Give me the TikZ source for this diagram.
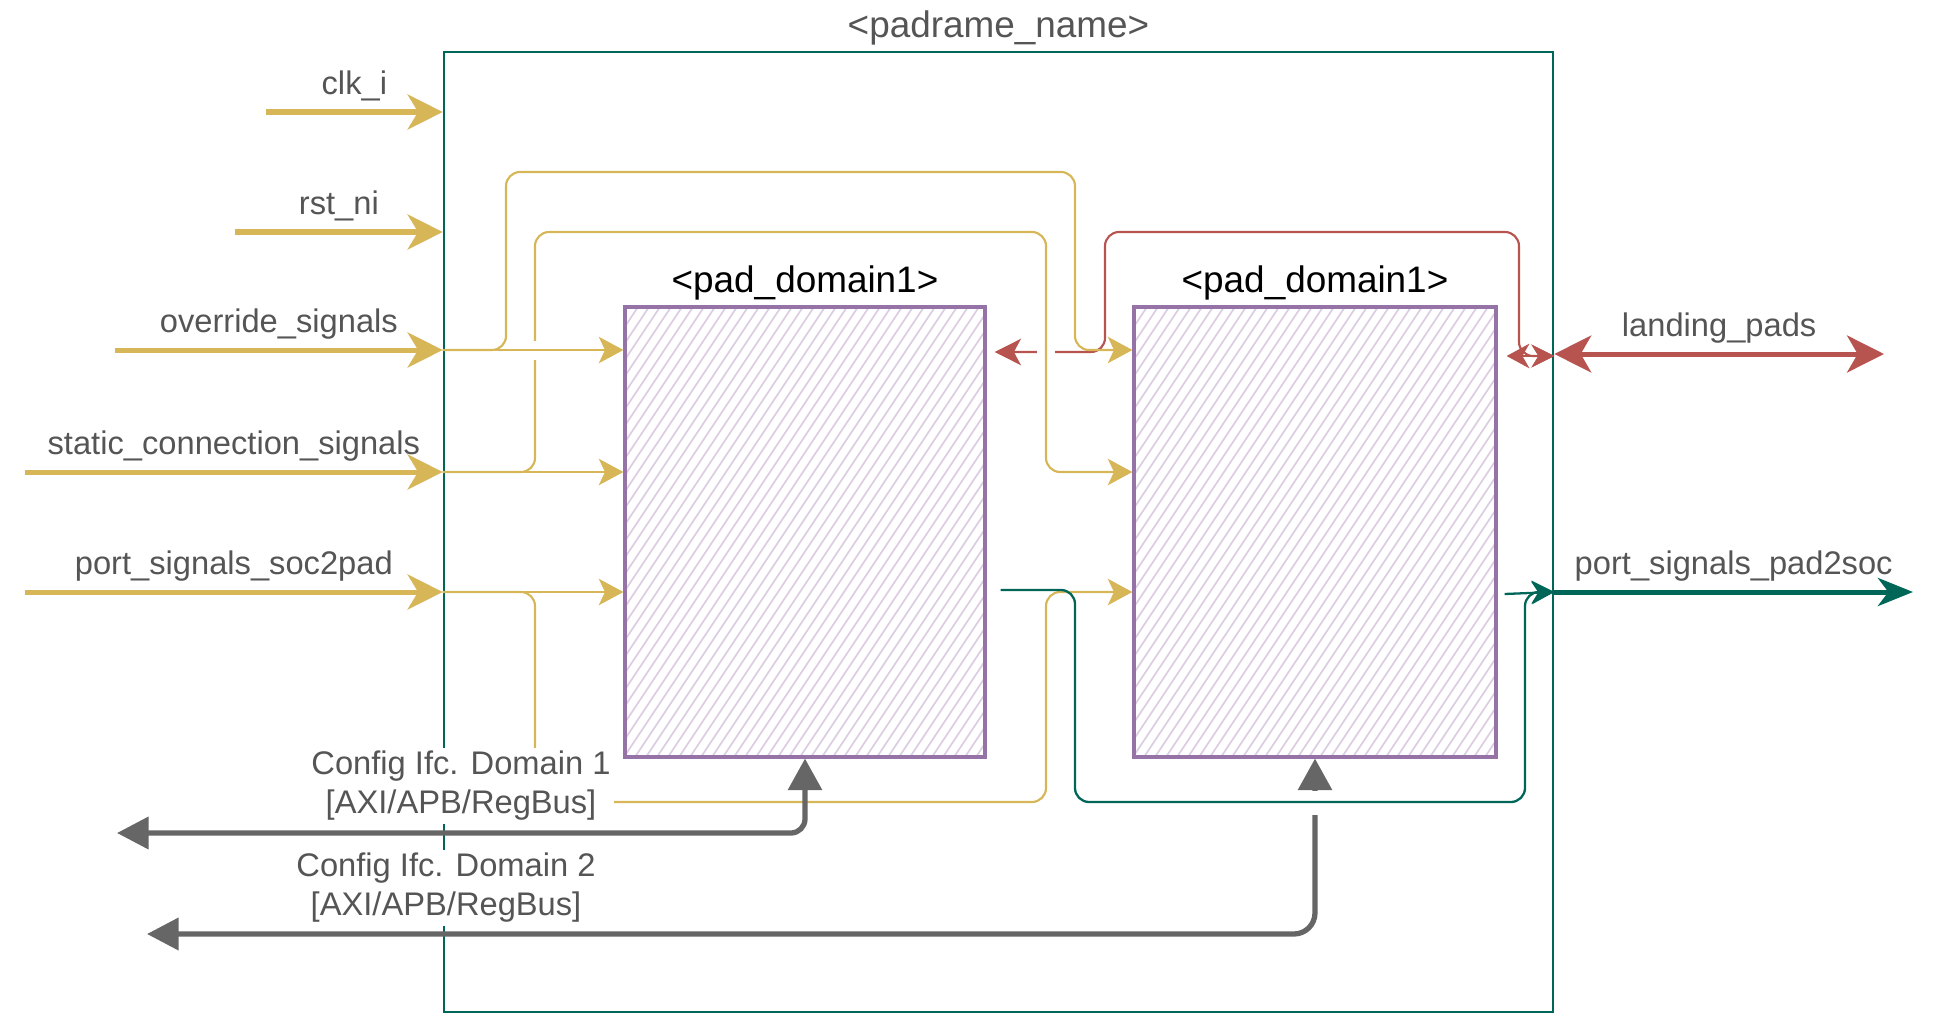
\documentclass[tikz,border=0pt]{standalone}
\usepackage{fontspec}
\setmainfont{Liberation Sans}
\usetikzlibrary{arrows.meta,positioning,fit}
\definecolor{frameteal}{HTML}{006658}
\definecolor{sigyellow}{HTML}{D6B656}
\definecolor{padred}{HTML}{B85450}
\definecolor{padpurple}{HTML}{9673A6}
\definecolor{hatchpurple}{HTML}{DCCDE3}
\definecolor{cfggray}{HTML}{666666}
\definecolor{labelgray}{HTML}{555555}
\newcommand{\sigfont}{\fontsize{18.6}{22.2}\selectfont}
\newcommand{\padfont}{\fontsize{21}{25}\selectfont}

\begin{document}
\begin{tikzpicture}[x=0.02cm,y=-0.02cm,
  every node/.style={inner sep=0pt},
  frame/.style={draw=frameteal,line width=1.5pt},
  padbox/.style={draw=padpurple,line width=1.8pt,
    path picture={\foreach \h in {-320,-309,...,370}
      \draw[hatchpurple,line width=1pt] (path picture bounding box.south west) ++(\h,0) -- ++(300,-450);}},
  toplabel/.style={font=\padfont,text=labelgray,anchor=base},
  padlabel/.style={font=\padfont,anchor=base},
  siglabel/.style={font=\sigfont,text=labelgray,anchor=base,yshift=9.7pt},
  cfglabel/.style={font=\sigfont,text=labelgray,align=center,fill=white,inner sep=2pt},
  bigsig/.style={sigyellow,line width=2.85pt,-{Stealth[length=20pt,width=20pt,inset=6pt]}},
  sig/.style={sigyellow,line width=1.2pt,rounded corners=8pt,-{Stealth[length=14pt,width=15pt,inset=3.5pt]}},
  redline/.style={padred,line width=1.2pt,rounded corners=8pt},
  bigred/.style={padred,line width=2.85pt,{Stealth[length=21pt,width=21pt,inset=6pt]}-{Stealth[length=21pt,width=21pt,inset=6pt]}},
  tealline/.style={frameteal,line width=1.3pt,rounded corners=8pt,-{Stealth[length=13pt,width=13pt,inset=4pt]}},
  bigteal/.style={frameteal,line width=2.85pt,-{Stealth[length=20pt,width=16pt,inset=6pt]}},
  cfgbus/.style={cfggray,line width=3pt,{Triangle[length=18pt,width=18pt]}-{Triangle[length=18pt,width=19pt]}},
  hop/.style={white,line width=3.5pt}
]
\useasboundingbox (0,0) rectangle (1941,1014);

% padframe and the two pad domains
\node[frame,fit={(444,52) (1553,1012)}] (frame) {};
\node[padbox,fit={(625,307) (985,757)}] (pd1) {};
\node[padbox,fit={(1134,307) (1496,757)}] (pd2) {};
\node[toplabel] at ([yshift=7.4pt]frame.north) {<padrame\_name>};
\node[padlabel] at ([yshift=7.6pt]pd1.north) {<pad\_domain1>};
\node[padlabel] at ([yshift=7.6pt]pd2.north) {<pad\_domain1>};

% outside ends
\coordinate (clkin) at (266,112);
\coordinate (rstin) at (235,232);
\coordinate (ovrin) at (115,350);
\coordinate (statin) at (25,472);
\coordinate (socin) at (25,592);
\coordinate (landout) at (1884,354);
\coordinate (socout) at (1913,592);
\coordinate (cfgone) at (117,833);
\coordinate (cfgtwo) at (147,934);

% inputs
\draw[bigsig] (clkin) -- node[siglabel] {clk\_i} (clkin -| frame.west);
\draw[bigsig] (rstin) -- node[siglabel] {rst\_ni} (rstin -| frame.west);
\draw[bigsig] (ovrin) -- node[siglabel] {override\_signals} (ovrin -| frame.west);
\draw[bigsig] (statin) -- node[siglabel] {static\_connection\_signals} (statin -| frame.west);
\draw[bigsig] (socin) -- node[siglabel] {port\_signals\_soc2pad} (socin -| frame.west);

% landing pads
\draw[redline,{Stealth[length=15pt,width=15pt,inset=4pt]}-{Stealth[length=13pt,width=13pt,inset=4pt]}]
  ([xshift=0.16cm]pd1.east |- 0,352) -| (1105,232) -| (1519,356) -- (frame.east |- 0,356);
\draw[hop] (1037,352) -- (1055,352);
\draw[redline,{Stealth[length=13pt,width=14pt,inset=4pt]}-{Stealth[length=13pt,width=13pt,inset=4pt]}]
  ([xshift=0.18cm]pd2.east |- 0,356) -- (frame.east |- 0,356);
\draw[bigred] (frame.east |- landout) -- node[siglabel] {landing\_pads} (landout);

% signals to the pad domains
\draw[sig] (ovrin -| frame.west) -| (506,172) -| (1075,350) -- (ovrin -| pd2.west);
\draw[sig] (statin -| frame.west) -| (535,232) -| (1046,472) -- (statin -| pd2.west);
\draw[sig] (socin -| frame.west) -| (535,802) -| (1046,592) -- (socin -| pd2.west);
\draw[hop] (535,341) -- (535,360);
\draw[sig] (ovrin -| frame.west) -- (ovrin -| pd1.west);
\draw[sig] (statin -| frame.west) -- (statin -| pd1.west);
\draw[sig] (socin -| frame.west) -- (socin -| pd1.west);

% config interfaces
\node[cfglabel] (cfgonetext) at (461,786) {Config Ifc. Domain 1\\ {[AXI/APB/RegBus]}};
\node[cfglabel] (cfgtwotext) at (446,888) {Config Ifc. Domain 2\\ {[AXI/APB/RegBus]}};
\draw[cfgbus,rounded corners=8pt] (cfgone) -| (pd1.south);
\draw[cfgbus,rounded corners=12pt] (cfgtwo) -| (pd2.south);
\draw[hop,line width=4pt] (1314,791) -- (1314,815);

% outputs
\draw[tealline] ([xshift=0.28cm]pd1.east |- 0,590) -| (1075,802) -| (1525,592) -- (frame.east |- 0,592);
\draw[tealline] ([xshift=0.14cm]pd2.east |- 0,594) -- (frame.east |- 0,592);
\draw[bigteal] (frame.east |- socout) -- node[siglabel] {port\_signals\_pad2soc} (socout);
\end{tikzpicture}
\end{document}
